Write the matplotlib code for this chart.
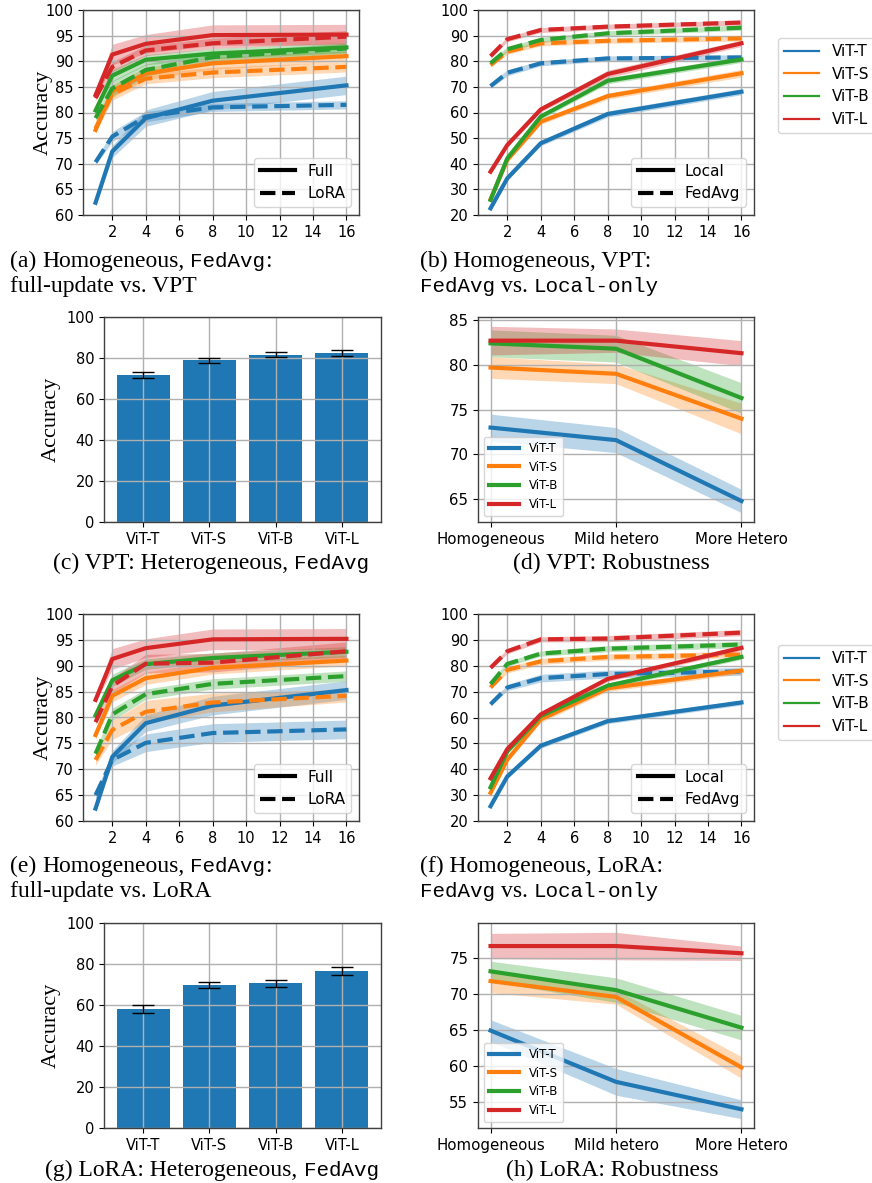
import matplotlib
matplotlib.use("Agg")
import matplotlib.pyplot as plt
import matplotlib.lines as mlines
import numpy as np

W, H, DPI = 872, 1183, 100

clients = [1, 2, 4, 8, 16]
models = ["ViT-T", "ViT-S", "ViT-B", "ViT-L"]
colors = ["#1f77b4", "#ff7f0e", "#2ca02c", "#d62728"]
settings = ["Homogeneous", "Mild hetero", "More Hetero"]

# (a) VPT homogeneous: full update vs VPT (legend says LoRA)
full_mean = [[62.4, 72.4, 78.9, 82.3, 85.3],
             [76.6, 84.2, 87.6, 89.6, 91.0],
             [80.4, 87.2, 90.3, 91.5, 92.7],
             [83.4, 91.3, 93.4, 95.1, 95.2]]
full_std = [[0.6, 1.2, 1.6, 1.8, 1.8],
            [0.7, 1.2, 1.2, 1.2, 1.0],
            [0.5, 1.2, 1.0, 1.0, 1.0],
            [0.5, 2.0, 1.8, 2.0, 2.0]]
a_peft_mean = [[70.3, 75.3, 79.2, 81.0, 81.5],
               [76.9, 83.6, 86.6, 87.8, 88.9],
               [78.9, 84.7, 88.3, 90.8, 92.5],
               [82.8, 88.9, 92.1, 93.5, 94.8]]
a_peft_std = [[0.5, 1.0, 1.0, 0.8, 0.8],
              [0.7, 1.2, 1.0, 1.0, 1.0],
              [0.5, 1.5, 1.2, 1.0, 1.0],
              [0.4, 1.0, 1.0, 1.0, 1.2]]

# (b) VPT homogeneous: local vs FedAvg
b_local_mean = [[22.6, 34.3, 48.0, 59.4, 68.1],
                [26.1, 41.5, 56.4, 66.4, 75.3],
                [25.9, 42.1, 58.4, 72.4, 80.7],
                [36.9, 47.3, 61.2, 75.0, 87.0]]
b_local_std = [[0.8, 0.8, 1.0, 1.2, 1.2],
               [0.8, 0.8, 1.0, 1.2, 1.5],
               [0.8, 0.8, 1.0, 1.2, 1.2],
               [0.8, 0.8, 1.0, 1.5, 1.2]]
b_fed_mean = [[70.3, 75.5, 79.2, 81.1, 81.5],
              [78.5, 83.7, 87.0, 88.0, 88.9],
              [79.2, 84.7, 88.3, 90.9, 93.1],
              [82.0, 88.6, 92.2, 93.5, 95.1]]
b_fed_std = [[0.8, 1.2, 1.0, 1.0, 1.0],
             [0.8, 1.0, 1.0, 1.0, 1.0],
             [0.8, 1.0, 1.0, 1.0, 1.0],
             [0.8, 1.0, 1.0, 1.0, 1.0]]

# (c) VPT heterogeneous bars
c_acc = [71.5, 78.8, 81.6, 82.5]
c_err = [1.45, 1.4, 1.3, 1.4]

# (d) VPT robustness
d_mean = [[73.0, 71.6, 64.8],
          [79.7, 79.0, 74.0],
          [82.4, 81.8, 76.3],
          [82.7, 82.7, 81.3]]
d_std = [[1.5, 1.4, 1.3],
         [1.2, 1.1, 1.7],
         [1.5, 1.5, 1.7],
         [1.6, 1.3, 1.4]]

# (e) LoRA homogeneous: full vs LoRA
e_lora_mean = [[65.0, 71.8, 75.1, 77.0, 77.7],
               [71.8, 77.6, 81.1, 82.9, 84.2],
               [73.0, 80.6, 84.5, 86.5, 88.0],
               [79.1, 86.1, 90.4, 90.6, 92.8]]
e_lora_std = [[0.8, 1.2, 1.7, 1.8, 1.8],
              [1.0, 1.8, 2.2, 1.8, 1.2],
              [0.6, 1.2, 1.0, 1.0, 1.0],
              [0.5, 1.5, 1.8, 1.8, 1.8]]

# (f) LoRA homogeneous: local vs FedAvg
f_local_mean = [[25.7, 37.2, 49.1, 58.6, 65.8],
                [30.9, 43.7, 59.3, 71.3, 78.1],
                [33.0, 46.9, 60.6, 72.3, 83.4],
                [36.5, 47.8, 61.2, 74.9, 86.9]]
f_local_std = [[0.6, 0.8, 1.0, 1.0, 1.0],
               [0.6, 0.8, 1.2, 1.2, 1.2],
               [0.6, 0.8, 1.0, 1.0, 1.0],
               [0.6, 0.8, 1.0, 1.0, 1.0]]
f_fed_mean = [[65.1, 71.6, 75.2, 76.8, 77.8],
              [71.6, 78.4, 81.7, 83.4, 84.3],
              [72.9, 80.7, 84.7, 86.6, 88.2],
              [79.2, 85.6, 90.2, 90.5, 92.8]]
f_fed_std = [[0.6, 1.2, 1.5, 1.5, 1.5],
             [0.6, 1.2, 1.2, 1.2, 1.2],
             [0.6, 1.0, 1.0, 1.2, 1.2],
             [0.6, 1.0, 1.0, 1.2, 1.2]]

# (g) LoRA heterogeneous bars
g_acc = [58.0, 69.6, 70.6, 76.6]
g_err = [1.9, 1.45, 1.8, 1.8]

# (h) LoRA robustness
h_mean = [[64.9, 57.8, 54.0],
          [71.75, 69.55, 59.8],
          [73.1, 70.5, 65.3],
          [76.6, 76.6, 75.6]]
h_std = [[1.5, 1.85, 1.3],
         [1.6, 1.0, 1.5],
         [1.4, 1.7, 1.7],
         [1.75, 1.9, 1.0]]

SERIF = "Liberation Serif"
MONO = "Liberation Mono"
CAP = 17
TICK = 10.5

fig = plt.figure(figsize=(W / DPI, H / DPI), dpi=DPI)


def add_ax(l, t, r, b):
    ax = fig.add_axes([l / W, 1 - b / H, (r - l) / W, (b - t) / H])
    ax.grid(True, color="#b0b0b0", lw=1.0)
    for sp in ax.spines.values():
        sp.set_color("#404040")
        sp.set_linewidth(1.0)
    return ax


def curves(ax, mean1, std1, mean2, std2, ylim, yticks, names, ylabel=True):
    for i, c in enumerate(colors):
        m, s = np.array(mean1[i]), np.array(std1[i])
        ax.fill_between(clients, m - s, m + s, color=c, alpha=0.3, lw=0)
        m2, s2 = np.array(mean2[i]), np.array(std2[i])
        ax.fill_between(clients, m2 - s2, m2 + s2, color=c, alpha=0.3, lw=0)
    for i, c in enumerate(colors):
        ax.plot(clients, mean1[i], color=c, lw=3)
        ax.plot(clients, mean2[i], color=c, lw=3, ls="--")
    ax.set_ylim(*ylim)
    ax.set_yticks(yticks)
    ax.set_xticks(range(2, 17, 2))
    ax.tick_params(labelsize=TICK)
    if ylabel:
        ax.set_ylabel("Accuracy", family=SERIF, fontsize=16, labelpad=-5.5)
    h = [mlines.Line2D([], [], color="k", lw=3, label=names[0]),
         mlines.Line2D([], [], color="k", lw=3, ls="--", label=names[1])]
    return ax.legend(handles=h, loc="lower right", fontsize=11, handlelength=2.3)


def model_legend(ax, leg, top):
    ax.add_artist(leg)
    h = [mlines.Line2D([], [], color=c, lw=1.6, label=m) for c, m in zip(colors, models)]
    ax.legend(handles=h, loc="upper left", bbox_to_anchor=(1.087, top),
              borderaxespad=0, fontsize=11, handlelength=2.3)


def bars(ax, acc, err):
    ax.bar(range(4), acc, yerr=err, width=0.8, color="#1f77b4", capsize=8,
           error_kw=dict(elinewidth=1, capthick=1))
    ax.set_xticks(range(4), models)
    ax.set_ylim(0, 100)
    ax.set_yticks(range(0, 101, 20))
    ax.tick_params(labelsize=TICK)
    ax.set_ylabel("Accuracy", family=SERIF, fontsize=16)


def robust(ax, mean, std):
    x = np.arange(3)
    for i, c in enumerate(colors):
        m, s = np.array(mean[i]), np.array(std[i])
        ax.fill_between(x, m - s, m + s, color=c, alpha=0.3, lw=0)
    for i, c in enumerate(colors):
        ax.plot(x, mean[i], color=c, lw=3, label=models[i])
    ax.set_xticks(x, settings)
    ax.tick_params(labelsize=10.8)
    ax.legend(loc="lower left", fontsize=8.5, handlelength=2.6)


def caption(x, y, parts, ha="left"):
    r = fig.canvas.get_renderer()
    items = []
    for s, fam in parts:
        if s == " ":
            items.append((None, CAP * 0.25 * DPI / 72))
            continue
        size = CAP if fam == SERIF else 15
        t = fig.text(0, 0, s, family=fam, fontsize=size, va="baseline")
        items.append((t, t.get_window_extent(r).width))
    total = sum(w for _, w in items)
    px = x - total / 2 if ha == "center" else x
    for t, w in items:
        if t is not None:
            t.set_position((px / W, 1 - y / H))
        px += w


ax_a = add_ax(83, 10, 359, 215)
curves(ax_a, full_mean, full_std, a_peft_mean, a_peft_std, (60, 100),
       range(60, 101, 5), ["Full", "LoRA"])

ax_b = add_ax(478, 10, 754, 215)
leg = curves(ax_b, b_local_mean, b_local_std, b_fed_mean, b_fed_std, (20, 100),
             range(20, 101, 10), ["Local", "FedAvg"], ylabel=False)
model_legend(ax_b, leg, 0.863)

ax_c = add_ax(104, 317, 381, 522)
bars(ax_c, c_acc, c_err)

ax_d = add_ax(478, 317, 754, 522)
robust(ax_d, d_mean, d_std)

ax_e = add_ax(83, 614, 359, 821)
curves(ax_e, full_mean, full_std, e_lora_mean, e_lora_std, (60, 100),
       range(60, 101, 5), ["Full", "LoRA"])

ax_f = add_ax(478, 614, 754, 821)
leg = curves(ax_f, f_local_mean, f_local_std, f_fed_mean, f_fed_std, (20, 100),
             range(20, 101, 10), ["Local", "FedAvg"], ylabel=False)
model_legend(ax_f, leg, 0.85)

ax_g = add_ax(104, 923, 381, 1128)
bars(ax_g, g_acc, g_err)

ax_h = add_ax(478, 923, 754, 1128)
robust(ax_h, h_mean, h_std)

caption(10, 267, [("(a)", SERIF), (" ", 0), ("Homogeneous,", SERIF), (" ", 0),
                  ("FedAvg", MONO), (":", SERIF)])
caption(10, 292, [("full-update vs. VPT", SERIF)])
caption(420, 267, [("(b) Homogeneous, VPT:", SERIF)])
caption(420, 292, [("FedAvg", MONO), (" ", 0), ("vs.", SERIF), (" ", 0), ("Local-only", MONO)])
caption(211, 569, [("(c) VPT: Heterogeneous,", SERIF), (" ", 0), ("FedAvg", MONO)], ha="center")
caption(611, 569, [("(d) VPT: Robustness", SERIF)], ha="center")
caption(10, 872, [("(e)", SERIF), (" ", 0), ("Homogeneous,", SERIF), (" ", 0),
                  ("FedAvg", MONO), (":", SERIF)])
caption(10, 897, [("full-update vs. LoRA", SERIF)])
caption(420, 872, [("(f) Homogeneous, LoRA:", SERIF)])
caption(420, 897, [("FedAvg", MONO), (" ", 0), ("vs.", SERIF), (" ", 0), ("Local-only", MONO)])
caption(212, 1176, [("(g) LoRA: Heterogeneous,", SERIF), (" ", 0), ("FedAvg", MONO)], ha="center")
caption(612, 1176, [("(h) LoRA: Robustness", SERIF)], ha="center")

fig.savefig("out.png", dpi=DPI)
